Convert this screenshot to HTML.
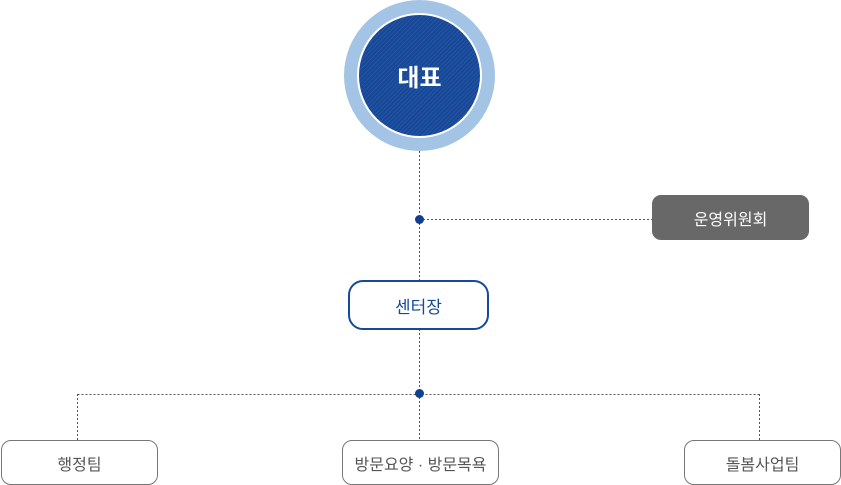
<!DOCTYPE html>
<html><head><meta charset="utf-8"><style>
html,body{margin:0;padding:0;background:#fff;}
body{width:841px;height:485px;position:relative;overflow:hidden;font-family:"Liberation Sans","Noto Sans CJK KR",sans-serif;}
.abs{position:absolute;box-sizing:border-box;}
.outer{left:344px;top:0;width:151px;height:151px;border-radius:50%;background:#a3c4e4;}
.inner{left:357px;top:13px;width:125px;height:125px;border-radius:50%;border:2px solid #fff;
background:repeating-linear-gradient(-45deg,#184796 0 2px,#2355a6 2px 3px);
color:#fff;font-size:24px;font-weight:bold;display:flex;align-items:center;justify-content:center;}
.box{display:flex;align-items:center;justify-content:center;}
.team{top:440px;width:157px;height:45px;border:1px solid #777;border-radius:10px;color:#555;font-size:16px;background:#fff;}
.dot{width:9px;height:9px;border-radius:50%;background:#103f92;}
</style></head><body>
<svg class="abs" style="left:0;top:0" width="841" height="485">
<g stroke="#555" stroke-width="1" stroke-dasharray="2,2" fill="none">
<line x1="419.5" y1="151" x2="419.5" y2="280"/>
<line x1="419.5" y1="329" x2="419.5" y2="440"/>
<line x1="419" y1="219.5" x2="652" y2="219.5"/>
<line x1="77.5" y1="394.5" x2="759.5" y2="394.5"/>
<line x1="77.5" y1="394" x2="77.5" y2="440"/>
<line x1="759.5" y1="394" x2="759.5" y2="440"/>
</g></svg>
<div class="abs outer"></div>
<div class="abs inner">대표</div>
<div class="abs dot" style="left:415px;top:215px"></div>
<div class="abs dot" style="left:415px;top:389px"></div>
<div class="abs box" style="left:652px;top:195px;width:157px;height:45px;background:#686868;border-radius:9px;color:#fff;font-size:16px;">운영위원회</div>
<div class="abs box" style="left:348px;top:280px;width:141px;height:50px;border:2px solid #154a9a;border-radius:15px;color:#154a9a;font-size:17px;background:#fff;">센터장</div>
<div class="abs box team" style="left:1px">행정팀</div>
<div class="abs box team" style="left:342px">방문요양 · 방문목욕</div>
<div class="abs box team" style="left:684px">돌봄사업팀</div>
</body></html>
